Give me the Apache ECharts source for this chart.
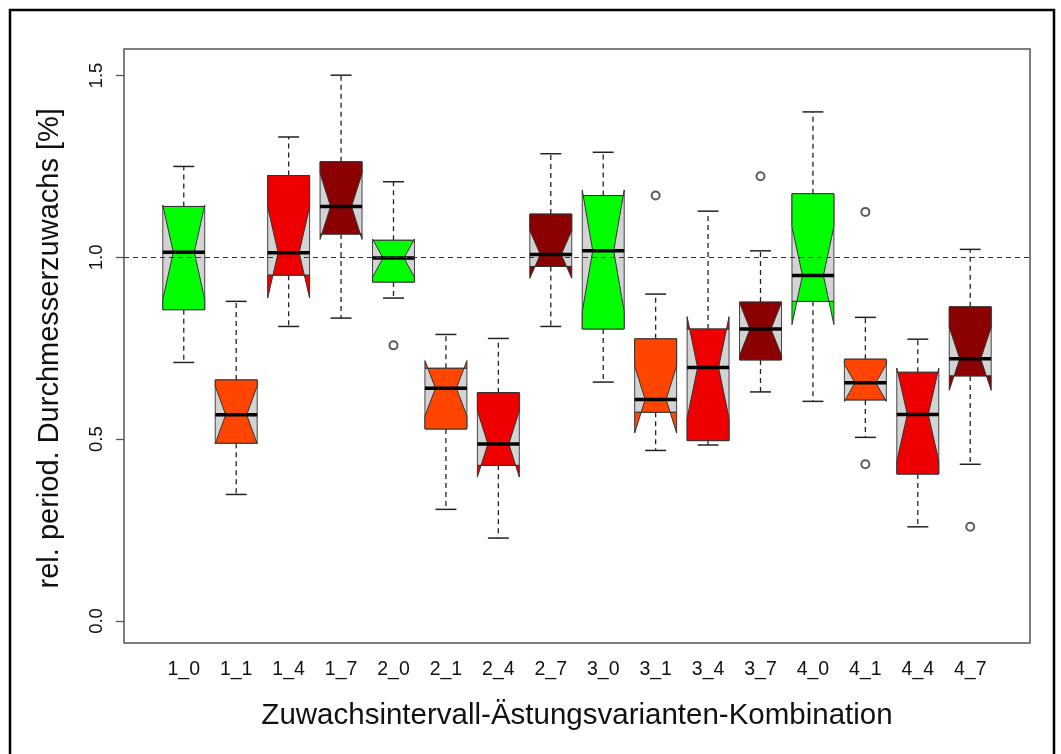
<!DOCTYPE html>
<html>
<head>
<meta charset="utf-8">
<script src="https://cdn.jsdelivr.net/npm/echarts@6/dist/echarts.min.js"></script>
<style>
html, body { margin: 0; padding: 0; background: #fff; }
#chart { width: 1061px; height: 754px; }
</style>
</head>
<body>
<div id="chart"></div>
<script>
// box statistics per combination
const categories = ['1_0','1_1','1_4','1_7','2_0','2_1','2_4','2_7','3_0','3_1','3_4','3_7','4_0','4_1','4_4','4_7'];
const lowerWhisker = [0.711,0.348,0.810,0.833,0.888,0.307,0.228,0.810,0.657,0.469,0.484,0.630,0.604,0.505,0.259,0.431];
const lowerHinge   = [0.856,0.489,0.951,1.064,0.932,0.528,0.428,0.975,0.803,0.574,0.496,0.718,0.879,0.608,0.404,0.674];
const medians      = [1.014,0.567,1.013,1.140,0.998,0.640,0.487,1.008,1.018,0.609,0.697,0.803,0.950,0.655,0.568,0.721];
const upperHinge   = [1.140,0.663,1.225,1.263,1.047,0.695,0.628,1.119,1.170,0.776,0.803,0.877,1.175,0.720,0.684,0.864];
const upperWhisker = [1.250,0.879,1.331,1.501,1.208,0.788,0.777,1.285,1.289,0.899,1.127,1.018,1.400,0.835,0.775,1.022];
const groupSize = 12; // trees per group, used for the notch width
const outlierCategory = ['2_0','3_1','3_7','4_1','4_1','4_7'];
const outlierValues   = [0.758,1.170,1.223,1.125,0.431,0.259];
const yTicks = [0, 0.5, 1.0, 1.5];
const refValue = 1.0;

// colours by pruning variant (suffix)
const variantColor = { '0': '#00FF00', '1': '#FF4500', '4': '#EE0000', '7': '#8B0000' };
const boxGray = '#D3D3D3';
const ink = '#222';
const textInk = '#111';
const font = 'Liberation Sans, Arial, sans-serif';

// plot region, R style 4% padding
const W = 1061, H = 754;
const plotLeft = 124, plotRight = 1030, plotTop = 49, plotBottom = 643;
const nBox = categories.length;
const xMin = 0.5 - 0.04 * nBox, xMax = nBox + 0.5 + 0.04 * nBox;
const yMin = -0.0605, yMax = 1.573;
const xPix = v => plotLeft + (v - xMin) / (xMax - xMin) * (plotRight - plotLeft);
const yPix = v => plotBottom - (v - yMin) / (yMax - yMin) * (plotBottom - plotTop);

const boxWex = 0.8, stapleWex = 0.5, notchScale = 0.5;

const boxData = categories.map((c, i) => [i + 1, lowerWhisker[i], lowerHinge[i], medians[i], upperHinge[i], upperWhisker[i]]);
const outlierData = outlierValues.map((v, k) => [categories.indexOf(outlierCategory[k]) + 1, v]);

function renderBox(params, api) {
  const pos = api.value(0);
  const lo = api.value(1), h1 = api.value(2), md = api.value(3), h3 = api.value(4), hi = api.value(5);
  const conf = 1.58 * (h3 - h1) / Math.sqrt(groupSize);
  const c1 = md - conf, c2 = md + conf;
  const cx = api.coord([pos, md])[0];
  const y = v => api.coord([pos, v])[1];
  const w = api.size([boxWex, 0])[0] / 2;
  const sw = w * stapleWex;
  const fill = variantColor[categories[params.dataIndex].split('_')[1]];
  const dash = [5, 4];
  const children = [];
  // whiskers + staples
  children.push({ type: 'line', shape: { x1: cx, y1: y(h3), x2: cx, y2: y(hi) }, style: { stroke: ink, lineWidth: 1.3, lineDash: dash } });
  children.push({ type: 'line', shape: { x1: cx, y1: y(h1), x2: cx, y2: y(lo) }, style: { stroke: ink, lineWidth: 1.3, lineDash: dash } });
  children.push({ type: 'line', shape: { x1: cx - sw, y1: y(hi), x2: cx + sw, y2: y(hi) }, style: { stroke: ink, lineWidth: 1.5 } });
  children.push({ type: 'line', shape: { x1: cx - sw, y1: y(lo), x2: cx + sw, y2: y(lo) }, style: { stroke: ink, lineWidth: 1.5 } });
  // plain grey box underneath
  children.push({ type: 'rect', shape: { x: cx - w, y: y(h3), width: 2 * w, height: y(h1) - y(h3) }, style: { fill: boxGray, stroke: '#444', lineWidth: 1 } });
  // notched box on top
  const pts = [
    [cx - w, y(h1)], [cx + w, y(h1)], [cx + w, y(c1)], [cx + w * notchScale, y(md)], [cx + w, y(c2)],
    [cx + w, y(h3)], [cx - w, y(h3)], [cx - w, y(c2)], [cx - w * notchScale, y(md)], [cx - w, y(c1)]
  ];
  children.push({ type: 'polygon', shape: { points: pts }, style: { fill: fill, stroke: '#333', lineWidth: 1 } });
  // median
  children.push({ type: 'line', shape: { x1: cx - w, y1: y(md), x2: cx + w, y2: y(md) }, style: { stroke: '#000', lineWidth: 3.5 } });
  return { type: 'group', children: children };
}

const chart = echarts.init(document.getElementById('chart'), null, { renderer: 'canvas' });
chart.setOption({
  animation: false,
  backgroundColor: '#fff',
  textStyle: { fontFamily: font },
  grid: [
    { left: plotLeft, right: W - plotRight, top: plotTop, bottom: H - plotBottom, show: true, borderColor: '#555', borderWidth: 1.5, backgroundColor: 'transparent' },
    { left: plotLeft, right: W - plotRight, top: yPix(yTicks[yTicks.length - 1]), bottom: H - yPix(yTicks[0]) },
    { left: xPix(0.5), right: W - xPix(nBox + 0.5), top: plotTop, bottom: H - plotBottom }
  ],
  xAxis: [
    { gridIndex: 0, type: 'value', min: xMin, max: xMax, show: false },
    { gridIndex: 1, type: 'value', show: false },
    {
      gridIndex: 2, type: 'category', data: categories, position: 'bottom', boundaryGap: true,
      axisLine: { show: false },
      axisTick: { alignWithLabel: true, length: 8, interval: 0, lineStyle: { color: '#555', width: 1.3 } },
      axisLabel: { interval: 0, fontSize: 19.5, margin: 17, color: textInk, fontFamily: font },
      name: 'Zuwachsintervall-Ästungsvarianten-Kombination', nameLocation: 'middle', nameGap: 58,
      nameTextStyle: { fontSize: 29.5, color: textInk, fontFamily: font }
    }
  ],
  yAxis: [
    { gridIndex: 0, type: 'value', min: yMin, max: yMax, show: false },
    {
      gridIndex: 1, type: 'value', min: yTicks[0], max: yTicks[yTicks.length - 1], interval: yTicks[1] - yTicks[0],
      axisLine: { show: false }, splitLine: { show: false },
      axisTick: { length: 8, lineStyle: { color: '#555', width: 1.3 } },
      axisLabel: { rotate: 90, fontSize: 18.5, margin: 18, color: textInk, fontFamily: font, formatter: v => v.toFixed(1) },
      name: 'rel. period. Durchmesserzuwachs [%]', nameLocation: 'middle', nameRotate: 90, nameGap: 60,
      nameTextStyle: { fontSize: 29, color: textInk, fontFamily: font }
    },
    { gridIndex: 2, type: 'value', show: false }
  ],
  series: [
    {
      type: 'custom', xAxisIndex: 0, yAxisIndex: 0, renderItem: renderBox, data: boxData, z: 2,
      markLine: {
        silent: true, symbol: 'none', label: { show: false }, z: 5,
        lineStyle: { color: '#333', width: 1.2, type: [5, 4] },
        data: [{ yAxis: refValue }]
      }
    },
    {
      type: 'scatter', xAxisIndex: 0, yAxisIndex: 0, data: outlierData, symbol: 'emptyCircle', symbolSize: 8, z: 3,
      itemStyle: { color: '#333', borderColor: '#333', borderWidth: 1.4 }
    }
  ],
  graphic: [
    { type: 'rect', silent: true, z: 100, shape: { x: 10, y: 10, width: 1044, height: 800 }, style: { fill: 'none', stroke: '#000', lineWidth: 2.5 } }
  ]
});
</script>
</body>
</html>
